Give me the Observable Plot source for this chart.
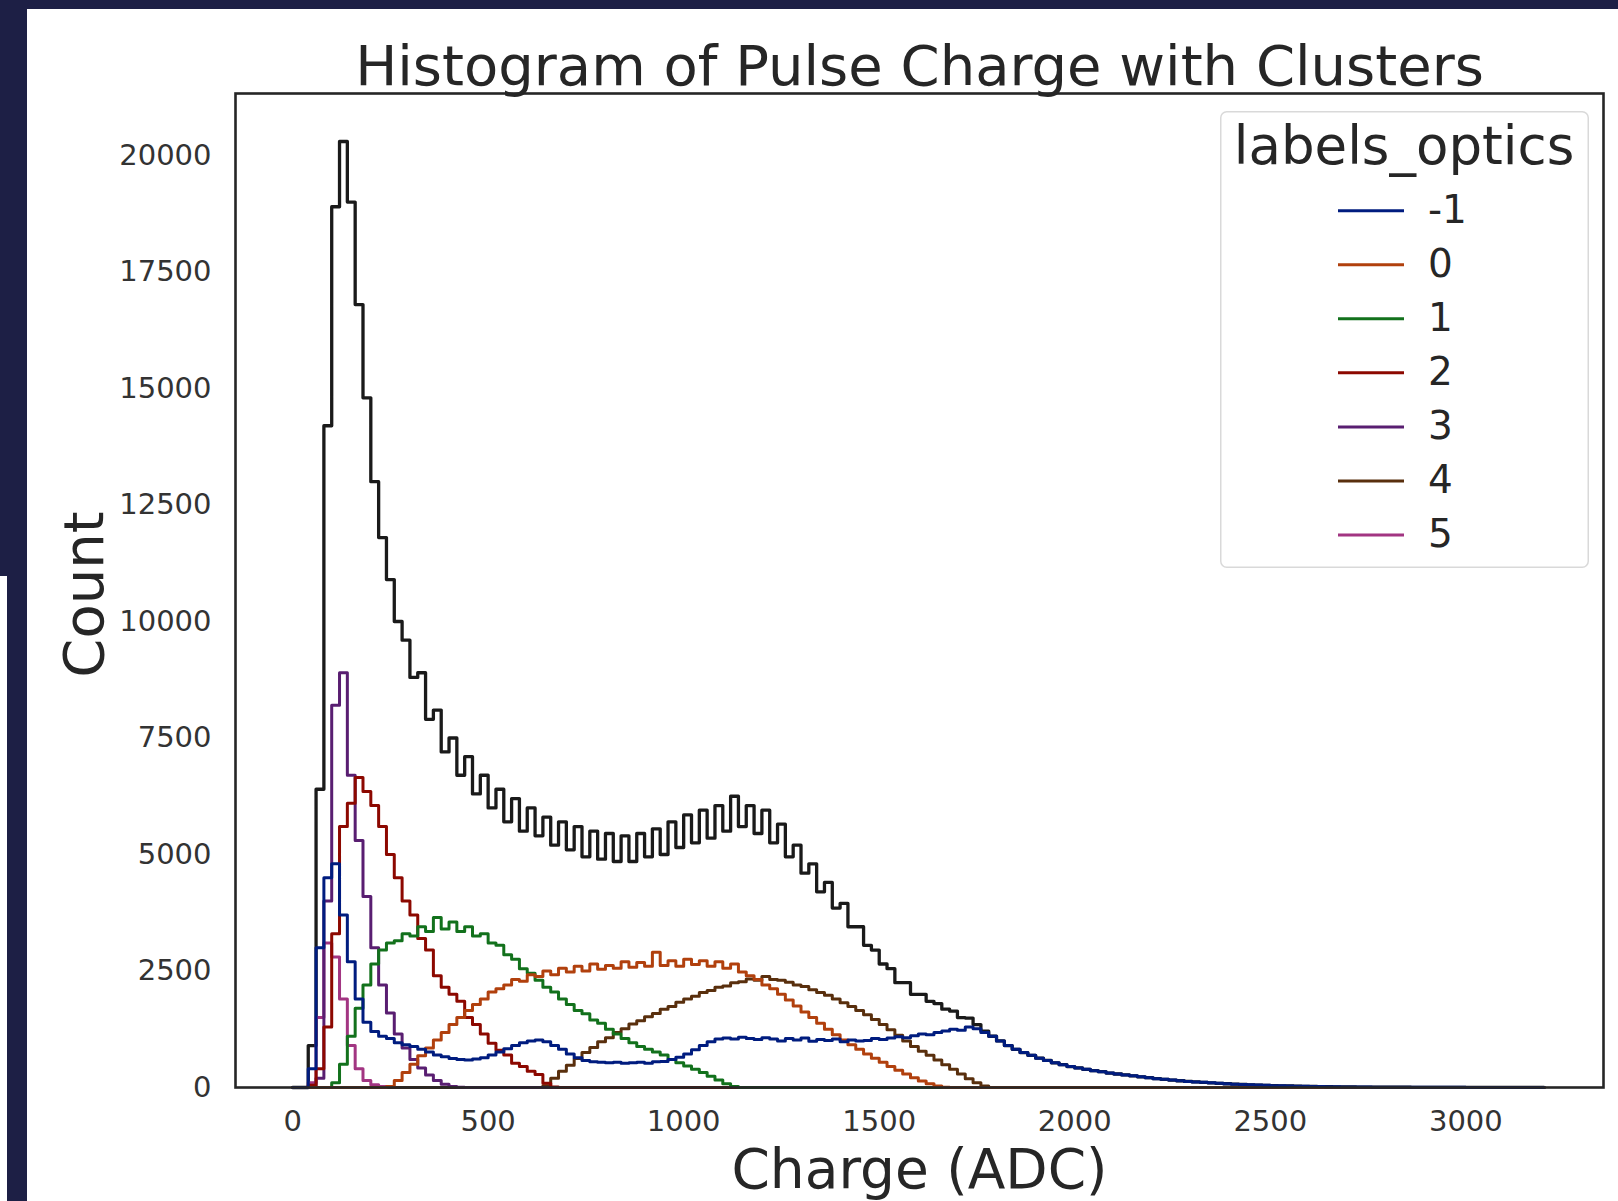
<!DOCTYPE html>
<html>
<head>
<meta charset="utf-8">
<script src="https://cdn.jsdelivr.net/npm/d3@7"></script>
<script src="https://cdn.jsdelivr.net/npm/@observablehq/plot@0.6"></script>
<style>
html, body { margin: 0; padding: 0; background: #fff; }
body { width: 1618px; height: 1201px; position: relative; overflow: hidden; font-family: "DejaVu Sans", sans-serif; }
#chart { position: absolute; left: 0; top: 0; }
.band { position: absolute; background: #1d1f45; }
#legend { position: absolute; left: 1220px; top: 111px; }
</style>
</head>
<body>
<div id="chart"></div>
<div class="band" style="left:0;top:0;width:1618px;height:9px"></div>
<div class="band" style="left:0;top:0;width:27px;height:1201px"></div>
<div style="position:absolute;left:0;top:576px;width:7px;height:625px;background:#fff"></div>
<svg id="legend" width="369" height="457"></svg>
<script>
// ---- data ----
const binWidth = 20;        // ADC units per bin
const binCount = 160;       // bins from 0 to 3200

const titleText = "Histogram of Pulse Charge with Clusters";
const xLabel = "Charge (ADC)";
const yLabel = "Count";
const legendTitle = "labels_optics";

const categories = ["-1", "0", "1", "2", "3", "4", "5"];
const palette = ["#001c7f", "#b1400d", "#12711c", "#8c0800", "#591e71", "#592f0d", "#a23582"];
const totalColor = "#1a1a1a";

const xTicks = [0, 500, 1000, 1500, 2000, 2500, 3000];
const yTicks = [0, 2500, 5000, 7500, 10000, 12500, 15000, 17500, 20000];

// all pulses (black outline), starting at charge 0
const totalStart = 0;
const totalCounts = [
  0, 0, 900, 6400, 14200, 18900, 20300, 19000, 16800, 14800,
  13000, 11800, 10900, 10000, 9600, 8800, 8900, 7900, 8100, 7200,
  7500, 6700, 7100, 6300, 6700, 6000, 6400, 5700, 6200, 5500,
  6000, 5400, 5800, 5200, 5700, 5100, 5600, 4950, 5500, 4900,
  5450, 4850, 5400, 4850, 5450, 4950, 5550, 5000, 5700, 5150,
  5850, 5250, 5950, 5350, 6050, 5500, 6250, 5600, 6050, 5450,
  5950, 5250, 5650, 4950, 5200, 4600, 4800, 4200, 4400, 3850,
  3950, 3450, 3450, 3050, 2950, 2650, 2550, 2250, 2250, 2000,
  2000, 1850, 1800, 1680, 1640, 1500, 1490, 1350, 1210, 1100,
  1000, 900, 820, 750, 690, 630, 580, 530, 490, 450,
  420, 390, 360, 340, 310, 290, 270, 250, 230, 210,
  190, 175, 160, 145, 130, 120, 110, 100, 90, 80,
  72, 65, 58, 52, 46, 40, 36, 32, 28, 25,
  22, 19, 17, 15, 13, 11, 10, 9, 8, 7,
  6, 5, 5, 4, 4, 4, 3, 3, 3, 3,
  2, 2, 2, 2, 2, 2, 1, 1, 1, 1
];

// cluster -1
const clusterM1Start = 40;
const clusterM1 = [
  400, 3000, 4500, 4800, 3700, 2700, 1900, 1400,
  1200, 1100, 1050, 960, 920, 880, 820, 760, 700, 660,
  620, 600, 590, 610, 640, 700, 760, 830, 900, 960,
  1000, 1020, 980, 900, 820, 720, 640, 580, 550, 540,
  530, 540, 520, 530, 540, 520, 550, 560, 600, 650,
  720, 810, 900, 980, 1040, 1060, 1040, 1080, 1050, 1030,
  1070, 1040, 1000, 1050, 1020, 1060, 990, 1030, 1010, 1040,
  980, 1020, 1000, 1010, 1050, 1030, 1060, 1090, 1070, 1110,
  1150, 1130, 1180, 1210, 1250, 1230, 1300, 1260, 1180, 1100,
  1000, 900, 820, 750, 690, 630, 580, 530, 490, 450,
  420, 390, 360, 340, 310, 290, 270, 250, 230, 210,
  190, 175, 160, 145, 130, 120, 110, 100, 90, 80,
  72, 65, 58, 52, 46, 40, 36, 32, 28, 25,
  22, 19, 17, 15, 13, 11, 10, 9, 8, 7,
  6, 5, 5, 4, 4, 4, 3, 3, 3, 3,
  2, 2, 2, 2, 2, 2, 1, 1, 1, 1
];

// cluster 0
const cluster0Start = 240;
const cluster0 = [
  20, 150, 320, 500, 680, 850, 1020, 1180, 1350, 1500,
  1650, 1780, 1900, 2050, 2120, 2200, 2320, 2280, 2420, 2380,
  2500, 2420, 2560, 2480, 2600, 2500, 2650, 2540, 2620, 2560,
  2700, 2580, 2680, 2600, 2900, 2620, 2720, 2600, 2750, 2640,
  2720, 2600, 2700, 2560, 2650, 2480, 2400, 2320, 2200, 2120,
  2000, 1880, 1750, 1620, 1500, 1380, 1250, 1130, 1020, 920,
  820, 720, 630, 540, 450, 370, 290, 210, 140, 80,
  30, 5
];

// cluster 1
const cluster1Start = 100;
const cluster1 = [
  100, 500, 1100, 1700, 2200, 2650, 2950, 3100, 3150, 3300,
  3250, 3450, 3350, 3650, 3400, 3550, 3350, 3450, 3250, 3300,
  3100, 3050, 2850, 2750, 2550, 2450, 2300, 2150, 2050, 1900,
  1780, 1650, 1580, 1450, 1380, 1250, 1150, 1050, 960, 880,
  820, 760, 700, 600, 530, 460, 390, 320, 240, 160,
  80, 20
];

// cluster 2
const cluster2Start = 40;
const cluster2 = [
  50, 400, 1300, 3300, 5600, 6100, 6650, 6350, 6050, 5600,
  5000, 4500, 4000, 3700, 3200, 2950, 2400, 2150, 2000, 1850,
  1500, 1350, 1150, 950, 800, 700, 520, 450, 350, 280,
  90, 10
];

// cluster 3
const cluster3Start = 60;
const cluster3 = [
  200, 4000, 8200, 8900, 6700, 5300, 4100, 3000, 2200, 1600,
  1150, 850, 600, 420, 270, 150, 70, 20, 5
];

// cluster 4
const cluster4Start = 640;
const cluster4 = [
  40, 200, 350, 480, 620, 750, 860, 980, 1070, 1180,
  1260, 1360, 1430, 1520, 1590, 1680, 1740, 1830, 1900, 1960,
  2040, 2080, 2150, 2180, 2250, 2270, 2330, 2300, 2380, 2320,
  2300, 2260, 2200, 2170, 2100, 2040, 1980, 1900, 1820, 1740,
  1650, 1560, 1460, 1350, 1240, 1120, 1000, 880, 780, 690,
  590, 490, 390, 290, 190, 100, 30
];

// cluster 5
const cluster5Start = 40;
const cluster5 = [100, 1500, 3100, 2800, 1900, 900, 400, 150, 60, 20, 5];

// ---- build step rows over the common bins ----
function stepRows(start, values) {
  const rows = [];
  const offset = Math.round(start / binWidth);
  for (let i = 0; i < binCount; i++) {
    const k = i - offset;
    rows.push({x: i * binWidth, y: k >= 0 && k < values.length ? values[k] : 0});
  }
  rows.push({x: binCount * binWidth, y: rows[rows.length - 1].y});
  return rows;
}

const clusterSeries = [
  {label: "-1", rows: stepRows(clusterM1Start, clusterM1)},
  {label: "0", rows: stepRows(cluster0Start, cluster0)},
  {label: "1", rows: stepRows(cluster1Start, cluster1)},
  {label: "2", rows: stepRows(cluster2Start, cluster2)},
  {label: "3", rows: stepRows(cluster3Start, cluster3)},
  {label: "4", rows: stepRows(cluster4Start, cluster4)},
  {label: "5", rows: stepRows(cluster5Start, cluster5)}
];
const colorOf = (label) => palette[categories.indexOf(label)];

const textColor = "#262626";

const marks = [
  Plot.line(stepRows(totalStart, totalCounts), {x: "x", y: "y", curve: "step-after", stroke: totalColor, strokeWidth: 3.3})
];
// seaborn draws hue levels in reverse order, so -1 ends on top
for (const s of clusterSeries.slice().reverse()) {
  marks.push(Plot.line(s.rows, {x: "x", y: "y", curve: "step-after", stroke: colorOf(s.label), strokeWidth: 3}));
}
marks.push(
  Plot.frame({stroke: textColor, strokeWidth: 2.6}),
  Plot.axisX({ticks: xTicks, tickSize: 0, tickPadding: 23, fontSize: 29, label: null, fill: "#333", tickFormat: d => String(d)}),
  Plot.axisY({ticks: yTicks, tickSize: 0, tickPadding: 24, fontSize: 29, label: null, fill: "#333", tickFormat: d => String(d)}),
  Plot.text([titleText], {text: d => d, frameAnchor: "top", dy: -9, lineAnchor: "bottom", fontSize: 56, fill: textColor}),
  Plot.text([xLabel], {text: d => d, frameAnchor: "bottom", dy: 100, lineAnchor: "bottom", fontSize: 55, fill: textColor}),
  Plot.text([yLabel], {text: d => d, frameAnchor: "left", textAnchor: "middle", dx: -133, dy: 4, rotate: -90, lineAnchor: "bottom", fontSize: 56, fill: textColor})
);

const chart = Plot.plot({
  width: 1618,
  height: 1201,
  marginLeft: 235,
  marginRight: 15,
  marginTop: 93,
  marginBottom: 114,
  style: {fontFamily: '"DejaVu Sans", sans-serif', background: "white", color: textColor, overflow: "visible"},
  x: {domain: [-146, 3352]},
  y: {domain: [0, 21330]},
  marks
});
document.getElementById("chart").appendChild(chart);

// ---- legend ----
const lg = d3.select("#legend");
lg.append("rect")
  .attr("x", 0.75).attr("y", 0.75).attr("width", 367.5).attr("height", 455.5)
  .attr("rx", 6).attr("fill", "white").attr("fill-opacity", 0.85)
  .attr("stroke", "#d9d9d9").attr("stroke-width", 1.5);
lg.append("text")
  .attr("x", 184).attr("y", 53)
  .attr("text-anchor", "middle")
  .attr("font-family", '"DejaVu Sans", sans-serif')
  .attr("font-size", 53).attr("fill", textColor)
  .text(legendTitle);
const entry = lg.selectAll("g.entry").data(categories).join("g")
  .attr("class", "entry")
  .attr("transform", (d, i) => `translate(0, ${99.7 + i * 54.05})`);
entry.append("line")
  .attr("x1", 118).attr("x2", 184).attr("y1", 0).attr("y2", 0)
  .attr("stroke", (d, i) => palette[i]).attr("stroke-width", 3);
entry.append("text")
  .attr("x", 208).attr("y", 12)
  .attr("font-family", '"DejaVu Sans", sans-serif')
  .attr("font-size", 39).attr("fill", textColor)
  .text(d => d);
</script>
</body>
</html>
